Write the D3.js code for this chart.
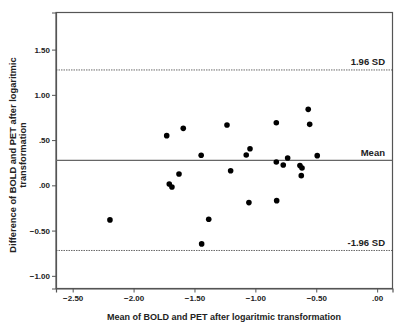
<!DOCTYPE html>
<meta charset="utf-8">
<script src="https://d3js.org/d3.v7.min.js"></script>
<style>
  body { margin: 0; background: #fff; }
  text { font-family: "Liberation Sans", Arial, sans-serif; }
</style>
<div id="chart"></div>
<script>
  // Bland-Altman data
  var meanVals = [-2.194, -1.728, -1.592, -1.707, -1.685, -1.627, -1.445, -1.441, -1.383,
    -1.233, -1.203, -1.075, -1.044, -1.053, -0.828, -0.828, -0.825, -0.771, -0.735,
    -0.634, -0.617, -0.623, -0.566, -0.554, -0.492];
  var diffVals = [-0.382, 0.549, 0.630, 0.015, -0.018, 0.126, 0.332, -0.647, -0.374,
    0.667, 0.162, 0.336, 0.405, -0.191, 0.692, 0.258, -0.169, 0.225, 0.302,
    0.218, 0.192, 0.107, 0.840, 0.674, 0.328];
  var refValues = [1.275, 0.275, -0.72];
  var refLabels = ["1.96 SD", "Mean", "-1.96 SD"];
  var refDashed = [true, false, true];
  var xTicks = [-2.5, -2.0, -1.5, -1.0, -0.5, 0.0];
  var yTicks = [1.5, 1.0, 0.5, 0.0, -0.5, -1.0];

  var width = 400, height = 327;
  var margin = { top: 12.5, right: 7.5, bottom: 38.5, left: 56 };

  var svg = d3.select("#chart").append("svg")
    .attr("width", width).attr("height", height);

  var x = d3.scaleLinear().domain([-2.637, 0.126]).range([margin.left, width - margin.right]);
  var y = d3.scaleLinear().domain([-1.14, 1.91]).range([height - margin.bottom, margin.top]);

  // SPSS style labels: ".50", "-.50", "1.00"
  function fmt(v) {
    var s = d3.format(".2f")(v);
    return s.replace(/^(-?)0\./, "$1.");
  }

  // frame
  svg.append("rect")
    .attr("x", margin.left).attr("y", margin.top)
    .attr("width", width - margin.right - margin.left)
    .attr("height", height - margin.bottom - margin.top)
    .attr("fill", "none").attr("stroke", "#555").attr("stroke-width", 1.2);

  var xAxis = svg.append("g")
    .attr("transform", "translate(0," + (height - margin.bottom) + ")")
    .call(d3.axisBottom(x).tickValues(xTicks).tickFormat(fmt).tickSize(4).tickPadding(3));
  var yAxis = svg.append("g")
    .attr("transform", "translate(" + margin.left + ",0)")
    .call(d3.axisLeft(y).tickValues(yTicks).tickFormat(fmt).tickSize(4).tickPadding(2));

  [xAxis, yAxis].forEach(function (g) {
    g.select(".domain").attr("stroke", "#555").attr("stroke-width", 1.2);
    g.selectAll(".tick line").attr("stroke", "#555");
    g.selectAll(".tick text")
      .attr("fill", "#222").style("font-size", "8px").style("font-weight", "bold")
      .style("font-family", "'Liberation Sans', Arial, sans-serif");
  });

  // reference lines
  refValues.forEach(function (v, i) {
    svg.append("line")
      .attr("x1", margin.left).attr("x2", width - margin.right)
      .attr("y1", y(v)).attr("y2", y(v))
      .attr("stroke", refDashed[i] ? "#444" : "#666")
      .attr("stroke-width", refDashed[i] ? 0.8 : 1.2)
      .attr("stroke-dasharray", refDashed[i] ? "1.5,1" : null);
    svg.append("text")
      .attr("x", 385).attr("y", y(v) - 4.5)
      .attr("text-anchor", "end")
      .style("font-size", "9.5px").style("font-weight", "bold").attr("fill", "#222")
      .text(refLabels[i]);
  });

  // points
  svg.selectAll("circle.pt")
    .data(meanVals.map(function (m, i) { return [m, diffVals[i]]; }))
    .enter().append("circle")
    .attr("class", "pt")
    .attr("cx", function (d) { return x(d[0]); })
    .attr("cy", function (d) { return y(d[1]); })
    .attr("r", 2.8)
    .attr("fill", "#000");

  // axis titles
  svg.append("text")
    .attr("x", 224).attr("y", 319.5)
    .attr("text-anchor", "middle")
    .style("font-size", "9px").style("font-weight", "bold").attr("fill", "#222")
    .text("Mean of BOLD and PET after logaritmic transformation");

  var yt = svg.append("text")
    .attr("transform", "translate(15.5,155) rotate(-90)")
    .attr("text-anchor", "middle")
    .style("font-size", "9.3px").style("font-weight", "bold").attr("fill", "#222");
  yt.append("tspan").attr("x", 0).attr("dy", 0).text("Difference of BOLD and PET after logaritmic");
  yt.append("tspan").attr("x", 0).attr("dy", 10.5).text("transformation");
</script>
